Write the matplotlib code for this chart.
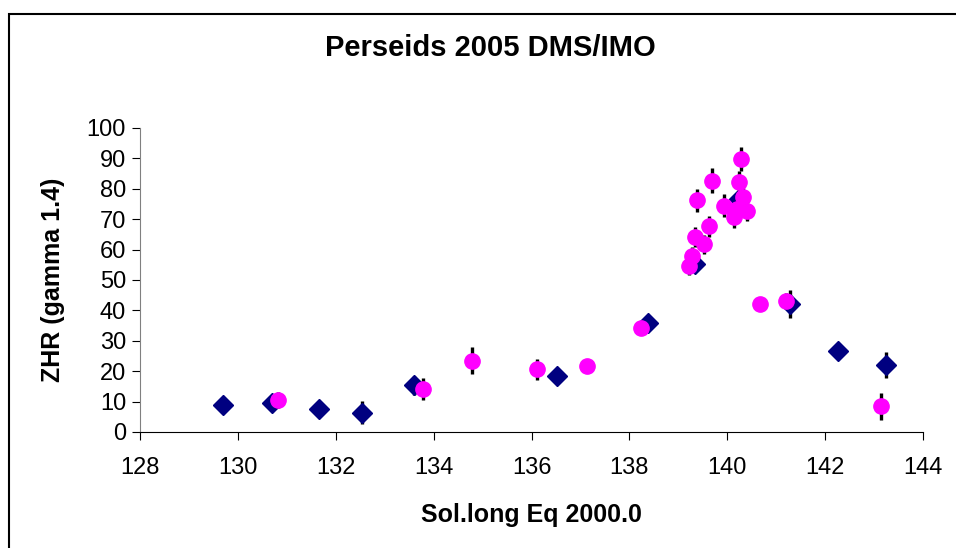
import matplotlib.pyplot as plt
from matplotlib.patches import Rectangle

# DMS data (navy diamonds)
dms_x = [129.70, 130.69, 131.65, 132.54, 133.60, 136.53, 138.39, 139.35, 140.23, 141.28, 142.27, 143.24]
dms_y = [9.0, 9.5, 7.7, 6.4, 15.3, 18.5, 35.8, 55.1, 76.7, 42.2, 26.5, 22.1]
dms_err = [1.2, 1.5, 1.2, 3.9, 3.0, 2.0, 2.0, 2.5, 3.5, 4.6, 2.0, 4.3]

# IMO data (magenta circles)
imo_x = [130.83, 133.78, 134.78, 136.12, 137.14, 138.23, 139.21, 139.28, 139.34, 139.39,
         139.53, 139.63, 139.69, 139.93, 140.13, 140.20, 140.25, 140.29, 140.33, 140.40,
         140.67, 141.21, 143.15]
imo_y = [10.6, 14.2, 23.5, 20.6, 21.6, 34.3, 54.7, 57.9, 64.1, 76.2,
         61.7, 67.7, 82.6, 74.5, 70.6, 73.3, 82.1, 89.8, 77.4, 72.7,
         42.1, 43.2, 8.4]
imo_err = [2.7, 3.7, 4.4, 3.5, 1.5, 1.5, 3.0, 3.0, 3.2, 3.8,
           3.0, 3.4, 4.1, 3.7, 3.5, 3.0, 3.8, 4.0, 3.5, 3.3,
           1.5, 2.5, 4.3]

plt.rcParams['font.family'] = ['Liberation Sans', 'DejaVu Sans']

fig = plt.figure(figsize=(9.56, 5.48), dpi=100)
ax = fig.add_axes([140/956, 116/548, 783/956, 304/548])

ax.errorbar(dms_x, dms_y, yerr=dms_err, fmt='none', ecolor='black', elinewidth=2.4, capsize=0, zorder=2)
ax.plot(dms_x, dms_y, 'D', color='#000080', markersize=10.5, zorder=3)
ax.errorbar(imo_x, imo_y, yerr=imo_err, fmt='none', ecolor='black', elinewidth=2.4, capsize=0, zorder=4)
ax.plot(imo_x, imo_y, 'o', color='#FF00FF', markersize=11, zorder=5)

ax.set_xlim(128, 144)
ax.set_ylim(0, 100)
ax.set_xticks(range(128, 145, 2))
ax.set_yticks(range(0, 101, 10))
ax.spines['top'].set_visible(False)
ax.spines['right'].set_visible(False)
ax.spines['left'].set_color('#808080')
ax.tick_params(direction='out', length=6, labelsize=17, pad=4)
ax.tick_params(axis='x', pad=12)

ax.set_xlabel('Sol.long Eq 2000.0', fontsize=18, fontweight='bold', labelpad=17)
ax.set_ylabel('ZHR (gamma 1.4)', fontsize=18, fontweight='bold', labelpad=16)
fig.text(490/956, 1 - 48/548, 'Perseids 2005 DMS/IMO', ha='center', va='center',
         fontsize=21, fontweight='bold')

fig.patches.append(Rectangle((9/956, -0.1), 1.2, 1 - 14/548 + 0.1, transform=fig.transFigure,
                             fill=False, edgecolor='black', linewidth=1.5))

fig.savefig('out.png', dpi=100)
